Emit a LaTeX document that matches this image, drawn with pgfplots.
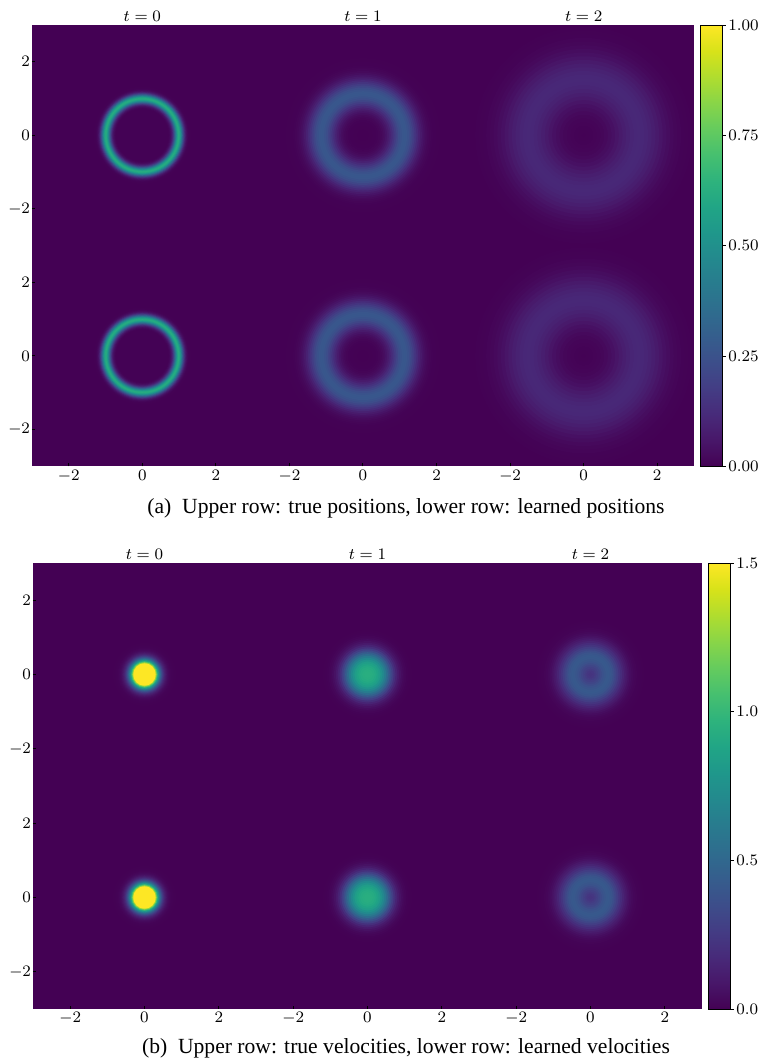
\documentclass[border=0pt]{standalone}
\usepackage{pgfplots}
\pgfplotsset{compat=1.18}
\usepackage{pgfplotstable}
\usepackage{fontspec}
\setmainfont{Liberation Serif}
\definecolor{vir0}{RGB}{68,1,84}

% ---- radial profiles (radius r, value v), largest disk first ----
% (a) positions, t=0
\pgfplotstableread{
x y r v
0 0 1.350 0.000
0 0 1.325 0.001
0 0 1.300 0.002
0 0 1.275 0.006
0 0 1.250 0.013
0 0 1.225 0.027
0 0 1.200 0.052
0 0 1.175 0.094
0 0 1.150 0.155
0 0 1.125 0.236
0 0 1.100 0.334
0 0 1.075 0.438
0 0 1.050 0.531
0 0 1.025 0.597
0 0 1.000 0.620
0 0 0.975 0.597
0 0 0.950 0.531
0 0 0.925 0.438
0 0 0.900 0.334
0 0 0.875 0.236
0 0 0.850 0.155
0 0 0.825 0.094
0 0 0.800 0.052
0 0 0.775 0.027
0 0 0.750 0.013
0 0 0.725 0.006
0 0 0.700 0.002
}\tAzero
% (a) positions, t=1
\pgfplotstableread{
x y r v
0 0 2.15 0.000
0 0 2.10 0.001
0 0 2.05 0.001
0 0 2.00 0.002
0 0 1.95 0.003
0 0 1.90 0.006
0 0 1.85 0.009
0 0 1.80 0.015
0 0 1.75 0.023
0 0 1.70 0.034
0 0 1.65 0.049
0 0 1.60 0.067
0 0 1.55 0.090
0 0 1.50 0.117
0 0 1.45 0.146
0 0 1.40 0.176
0 0 1.35 0.205
0 0 1.30 0.231
0 0 1.25 0.252
0 0 1.20 0.265
0 0 1.15 0.270
0 0 1.10 0.265
0 0 1.05 0.252
0 0 1.00 0.231
0 0 0.95 0.205
0 0 0.90 0.176
0 0 0.85 0.146
0 0 0.80 0.117
0 0 0.75 0.090
0 0 0.70 0.067
0 0 0.65 0.049
0 0 0.60 0.034
0 0 0.55 0.023
0 0 0.50 0.015
0 0 0.45 0.009
0 0 0.40 0.006
0 0 0.35 0.003
0 0 0.30 0.002
0 0 0.25 0.001
0 0 0.20 0.001
0 0 0.15 0.000
}\tAone
% (a) positions, t=2
\pgfplotstableread{
x y r v
0 0 2.95 0.002
0 0 2.85 0.004
0 0 2.75 0.006
0 0 2.65 0.010
0 0 2.55 0.015
0 0 2.45 0.022
0 0 2.35 0.031
0 0 2.25 0.041
0 0 2.15 0.054
0 0 2.05 0.067
0 0 1.95 0.080
0 0 1.85 0.092
0 0 1.75 0.102
0 0 1.65 0.108
0 0 1.55 0.110
0 0 1.45 0.108
0 0 1.35 0.102
0 0 1.25 0.092
0 0 1.15 0.080
0 0 1.05 0.067
0 0 0.95 0.054
0 0 0.85 0.041
0 0 0.75 0.031
0 0 0.65 0.022
0 0 0.55 0.015
0 0 0.45 0.010
0 0 0.35 0.007
0 0 0.25 0.005
0 0 0.15 0.004
0 0 0.05 0.003
}\tAtwo
% (b) velocities, t=0
\pgfplotstableread{
x y r v
0 0 0.850 0.002
0 0 0.800 0.004
0 0 0.775 0.006
0 0 0.750 0.009
0 0 0.725 0.013
0 0 0.700 0.019
0 0 0.675 0.028
0 0 0.650 0.041
0 0 0.625 0.057
0 0 0.600 0.080
0 0 0.575 0.110
0 0 0.550 0.149
0 0 0.525 0.200
0 0 0.500 0.264
0 0 0.475 0.345
0 0 0.450 0.443
0 0 0.425 0.562
0 0 0.400 0.703
0 0 0.375 0.868
0 0 0.350 1.056
0 0 0.325 1.270
0 0 0.300 1.500
}\tBzero
% (b) velocities, t=1
\pgfplotstableread{
x y r v
0 0 1.25 0.000
0 0 1.20 0.002
0 0 1.15 0.005
0 0 1.10 0.009
0 0 1.05 0.016
0 0 1.00 0.027
0 0 0.95 0.044
0 0 0.90 0.068
0 0 0.85 0.100
0 0 0.80 0.145
0 0 0.75 0.200
0 0 0.70 0.270
0 0 0.65 0.350
0 0 0.60 0.440
0 0 0.55 0.530
0 0 0.50 0.620
0 0 0.45 0.700
0 0 0.40 0.770
0 0 0.35 0.830
0 0 0.30 0.870
0 0 0.25 0.900
0 0 0.20 0.920
0 0 0.15 0.930
0 0 0.10 0.940
0 0 0.05 0.940
}\tBone
% (b) velocities, t=2
\pgfplotstableread{
x y r v
0 0 1.50 0.000
0 0 1.45 0.002
0 0 1.40 0.004
0 0 1.35 0.006
0 0 1.30 0.009
0 0 1.25 0.014
0 0 1.20 0.021
0 0 1.15 0.031
0 0 1.10 0.045
0 0 1.05 0.063
0 0 1.00 0.087
0 0 0.95 0.115
0 0 0.90 0.148
0 0 0.85 0.186
0 0 0.80 0.225
0 0 0.75 0.268
0 0 0.70 0.310
0 0 0.65 0.350
0 0 0.60 0.385
0 0 0.55 0.405
0 0 0.50 0.415
0 0 0.45 0.410
0 0 0.40 0.395
0 0 0.35 0.370
0 0 0.30 0.340
0 0 0.25 0.310
0 0 0.20 0.280
0 0 0.15 0.255
0 0 0.10 0.235
0 0 0.05 0.225
}\tBtwo

\pgfplotsset{
 panel/.style={scale only axis, width=#1, height=#1, anchor=north west,
   xmin=-3,xmax=3,ymin=-3,ymax=3, enlargelimits=false,
   axis line style={draw=none},
   xtick=\empty, ytick=\empty,
   tick align=inside, major tick length=1.5pt, tick style={black, line width=0.5pt},
   ticklabel style={font=\footnotesize},
   xticklabel style={inner sep=1.5pt}, yticklabel style={inner sep=0.8pt},
   axis on top, clip marker paths=true,
   axis background/.style={fill=vir0},
   colormap/viridis,
   every axis title/.style={font=\footnotesize, at={(0.5,1)}, anchor=south, inner sep=1.5pt},
 },
 leftcol/.style={ytick={-2,0,2}, ytick pos=left},
 botrow/.style={xtick={-2,0,2}, xtick pos=left},
 ring/.style={scatter, only marks, mark=*, point meta=\thisrow{v},
   scatter/use mapped color={draw=mapped color, fill=mapped color, line width=0.05pt},
   visualization depends on={#1*\thisrow{r} \as \rr},
   scatter/@pre marker code/.append style={/tikz/mark size=\rr}},
 cbar/.style n args={4}{colorbar, colorbar shift/.style={xshift=3.5pt},
   colorbar style={at={(parent axis.north east)}, anchor=north west,
     scale only axis, width=11pt, height=#1,
     ytick={#2}, ytick pos=right, yticklabel pos=right,
     tick align=outside, major tick length=1.5pt, tick style={black, line width=0.5pt},
     axis line style={draw=black, line width=0.5pt},
     yticklabel style={font=\footnotesize, inner sep=1pt,
       /pgf/number format/.cd, fixed, fixed zerofill, precision=#3}}},
}

\begin{document}
\begin{tikzpicture}
\path[use as bounding box] (0,0) rectangle (380pt,-530.5pt);

% ================= (a) positions =================
\def\W{110.33pt}
\def\U{18.389}
\begin{axis}[panel=\W, at={(16pt,-12.5pt)}, leftcol, point meta min=0, point meta max=1, title={$t=0$}]
\addplot[ring=\U] table {\tAzero};
\end{axis}
\begin{axis}[panel=\W, at={(126.33pt,-12.5pt)}, point meta min=0, point meta max=1, title={$t=1$}]
\addplot[ring=\U] table {\tAone};
\end{axis}
\begin{axis}[panel=\W, at={(236.67pt,-12.5pt)}, point meta min=0, point meta max=1, title={$t=2$},
  cbar={220.67pt}{0,0.25,0.5,0.75,1}{2}{}]
\addplot[ring=\U] table {\tAtwo};
\end{axis}
\begin{axis}[panel=\W, at={(16pt,-122.83pt)}, leftcol, botrow, point meta min=0, point meta max=1]
\addplot[ring=\U] table {\tAzero};
\end{axis}
\begin{axis}[panel=\W, at={(126.33pt,-122.83pt)}, botrow, point meta min=0, point meta max=1]
\addplot[ring=\U] table {\tAone};
\end{axis}
\begin{axis}[panel=\W, at={(236.67pt,-122.83pt)}, botrow, point meta min=0, point meta max=1]
\addplot[ring=\U] table {\tAtwo};
\end{axis}
\node[anchor=base, font=\fontsize{10.8}{13}\selectfont] at (203pt,-256.5pt)
  {(a)\hspace{0.5em}Upper row: true positions, lower row: learned positions};

% ================= (b) velocities =================
\def\W{111.5pt}
\def\U{18.583}
\begin{axis}[panel=\W, at={(16.5pt,-281.5pt)}, leftcol, point meta min=0, point meta max=1.5, title={$t=0$}]
\addplot[ring=\U] table {\tBzero};
\end{axis}
\begin{axis}[panel=\W, at={(128pt,-281.5pt)}, point meta min=0, point meta max=1.5, title={$t=1$}]
\addplot[ring=\U] table {\tBone};
\end{axis}
\begin{axis}[panel=\W, at={(239.5pt,-281.5pt)}, point meta min=0, point meta max=1.5, title={$t=2$},
  cbar={223pt}{0,0.5,1,1.5}{1}{}]
\addplot[ring=\U] table {\tBtwo};
\end{axis}
\begin{axis}[panel=\W, at={(16.5pt,-393pt)}, leftcol, botrow, point meta min=0, point meta max=1.5]
\addplot[ring=\U] table {\tBzero};
\end{axis}
\begin{axis}[panel=\W, at={(128pt,-393pt)}, botrow, point meta min=0, point meta max=1.5]
\addplot[ring=\U] table {\tBone};
\end{axis}
\begin{axis}[panel=\W, at={(239.5pt,-393pt)}, botrow, point meta min=0, point meta max=1.5]
\addplot[ring=\U] table {\tBtwo};
\end{axis}
\node[anchor=base, font=\fontsize{10.8}{13}\selectfont] at (203pt,-526.5pt)
  {(b)\hspace{0.5em}Upper row: true velocities, lower row: learned velocities};
\end{tikzpicture}
\end{document}
